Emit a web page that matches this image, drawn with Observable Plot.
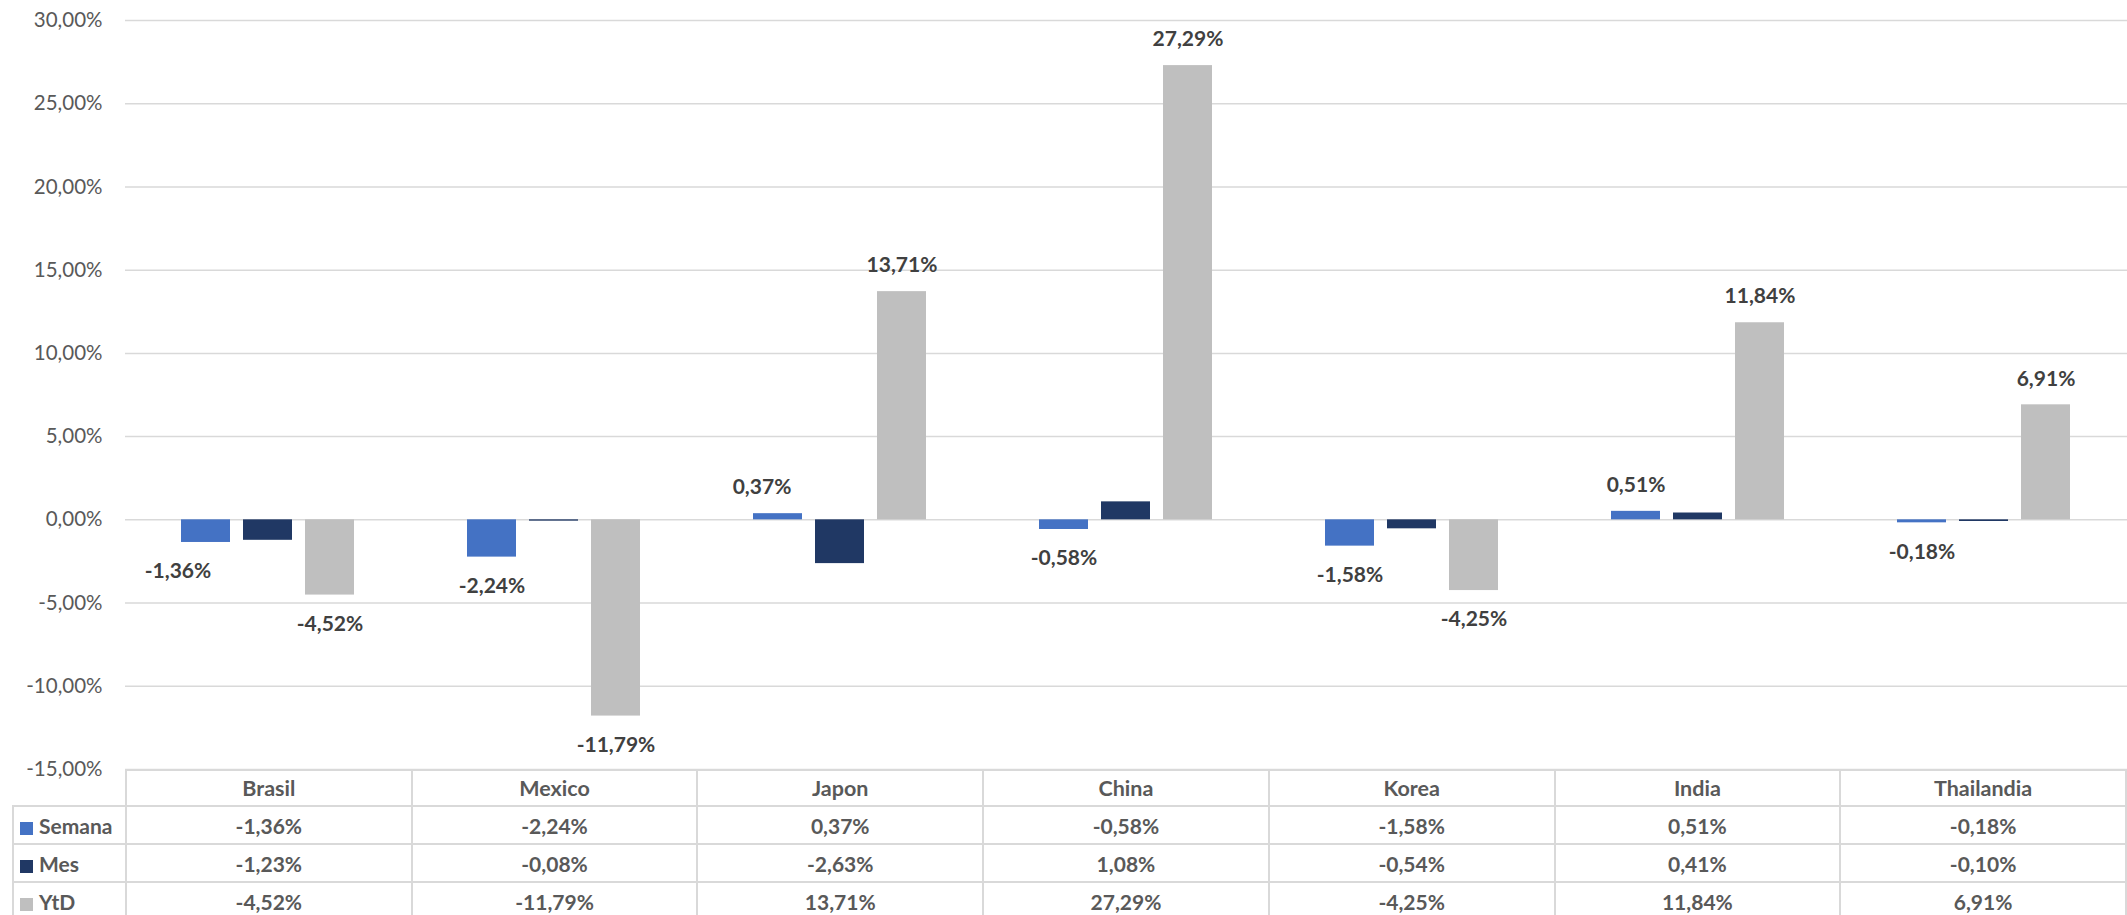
<!DOCTYPE html>
<html>
<head>
<meta charset="utf-8">
<script src="https://cdn.jsdelivr.net/npm/d3@7"></script>
<script src="https://cdn.jsdelivr.net/npm/@observablehq/plot@0.6"></script>
<style>
  html, body { margin: 0; padding: 0; background: #fff; }
  #wrap { position: relative; width: 2127px; height: 915px; overflow: hidden; font-family: Lato, "Open Sans", sans-serif; }
  #chart { position: absolute; left: 0; top: 0; }
  #tbl { position: absolute; left: 12px; top: 769px; border-collapse: collapse; table-layout: fixed; color: #595959; font-weight: bold; font-size: 21px; }
  #tbl td { border: 2px solid #d9d9d9; text-align: center; padding: 0; height: 36px; font-size: 21px; }
  #tbl tr.hdr td { height: 34px; font-size: 21.5px; }
  #tbl td.blank { border-top: none; border-left: none; border-bottom-color: #d9d9d9; }
  #tbl td.lg { text-align: left; padding-left: 6px; white-space: nowrap; font-size: 21px; }
  .sw { display: inline-block; width: 13px; height: 13px; margin-right: 6px; vertical-align: -1px; }
</style>
</head>
<body>
<div id="wrap">
  <div id="chart"></div>
  <table id="tbl"></table>
</div>
<script>
// ---- data ----
const countries = ["Brasil", "Mexico", "Japon", "China", "Korea", "India", "Thailandia"];
const seriesNames = ["Semana", "Mes", "YtD"];
const semana = [-1.36, -2.24, 0.37, -0.58, -1.58, 0.51, -0.18];
const mes = [-1.23, -0.08, -2.63, 1.08, -0.54, 0.41, -0.10];
const ytd = [-4.52, -11.79, 13.71, 27.29, -4.25, 11.84, 6.91];
const yTicks = [-15, -10, -5, 0, 5, 10, 15, 20, 25, 30];
const seriesColors = ["#4472C4", "#203864", "#BFBFBF"];

const valuesBySeries = {Semana: semana, Mes: mes, YtD: ytd};
const data = [];
countries.forEach((c, i) => {
  seriesNames.forEach(s => data.push({country: c, series: s, value: valuesBySeries[s][i]}));
});
const fmt = v => v.toFixed(2).replace(".", ",") + "%";

// labels shown for Semana and YtD only (as in the reference)
const labelled = data.filter(d => d.series !== "Mes");
const isNudged = d => d.series === "Semana" && (d.country === "Brasil" || d.country === "Japon");
const labelStyle = {fx: "country", x: "series", y: "value", text: d => fmt(d.value),
  fill: "#404040", fontWeight: "bold", fontSize: 21};

const chart = Plot.plot({
  width: 2127,
  height: 790,
  marginTop: 20,
  marginBottom: 21,
  marginLeft: 125,
  marginRight: 0,
  style: {fontFamily: "Lato, 'Open Sans', sans-serif", background: "#fff"},
  fx: {domain: countries, padding: 0, axis: null},
  x: {domain: seriesNames, paddingInner: 0.206, paddingOuter: 0.881, axis: null},
  y: {domain: [-15, 30]},
  color: {domain: seriesNames, range: seriesColors},
  marks: [
    Plot.gridY(yTicks, {stroke: "#d9d9d9", strokeOpacity: 1, strokeWidth: 1.5}),
    Plot.axisY(yTicks, {tickSize: 0, tickPadding: 23, tickFormat: fmt, fontSize: 20.5, fill: "#595959", label: null}),
    Plot.barY(data, {fx: "country", x: "series", y: "value", fill: "series"}),
    Plot.text(labelled.filter(d => d.value >= 0 && !isNudged(d)), {...labelStyle, dy: -26}),
    Plot.text(labelled.filter(d => d.value < 0 && !isNudged(d)), {...labelStyle, dy: 29}),
    Plot.text(labelled.filter(d => isNudged(d) && d.country === "Brasil"), {...labelStyle, dy: 29, dx: -28}),
    Plot.text(labelled.filter(d => isNudged(d) && d.country === "Japon"), {...labelStyle, dy: -26, dx: -16})
  ]
});
document.getElementById("chart").appendChild(chart);

// ---- data table below the chart ----
const tbl = document.getElementById("tbl");
let html = '<colgroup><col style="width:113px">' + countries.map(() => '<col style="width:286px">').join("") + '</colgroup>';
html += '<tr class="hdr"><td class="blank"></td>' + countries.map(c => `<td>${c}</td>`).join("") + '</tr>';
seriesNames.forEach((s, k) => {
  html += `<tr><td class="lg"><span class="sw" style="background:${seriesColors[k]}"></span>${s}</td>` +
    valuesBySeries[s].map(v => `<td>${fmt(v)}</td>`).join("") + '</tr>';
});
tbl.innerHTML = html;
</script>
</body>
</html>
